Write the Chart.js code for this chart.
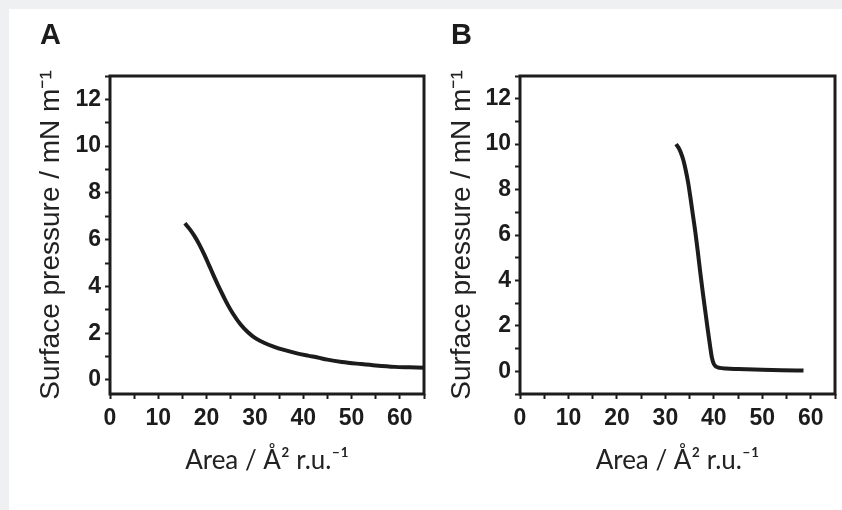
<!DOCTYPE html>
<html>
<head>
<meta charset="utf-8">
<script src="https://cdn.jsdelivr.net/npm/chart.js@4.4.1/dist/chart.umd.min.js"></script>
<style>
  html, body { margin: 0; padding: 0; background: #eef0f2; }
  #sheet { position: absolute; left: 9px; top: 9px; width: 833px; height: 501px; background: #fff; }
  canvas { position: absolute; top: 0; }
  #chartA { left: 10px; }
  #chartB { left: 421px; }
</style>
</head>
<body>
<div id="sheet">
  <canvas id="chartA" width="411" height="501"></canvas>
  <canvas id="chartB" width="412" height="501"></canvas>
</div>
<script>
// panel A isotherm
const areaA = [15.5, 16.5, 17.5, 18.5, 19.5, 20.5, 21.5, 22.5, 23.5, 24.5, 25.5, 27, 28.5, 30, 32, 34, 36, 38.5, 41, 43, 45, 48, 52, 55, 59, 62, 65];
const pressureA = [6.7, 6.45, 6.15, 5.79, 5.37, 4.91, 4.44, 3.99, 3.57, 3.17, 2.82, 2.38, 2.05, 1.8, 1.58, 1.42, 1.29, 1.15, 1.04, 0.96, 0.87, 0.77, 0.68, 0.62, 0.56, 0.54, 0.52];

// panel B isotherm
const areaB = [32.2, 32.7, 33.2, 33.7, 34.2, 34.7, 35.2, 35.7, 36.2, 36.7, 37.2, 37.7, 38.2, 38.7, 39.2, 39.6, 40.0, 40.5, 41.2, 42.5, 45, 50, 54, 58.5];
const pressureB = [10.0, 9.85, 9.62, 9.3, 8.85, 8.3, 7.6, 6.85, 6.1, 5.25, 4.35, 3.5, 2.7, 1.9, 1.15, 0.6, 0.32, 0.2, 0.15, 0.12, 0.1, 0.07, 0.05, 0.03];

const xTicks = [0, 10, 20, 30, 40, 50, 60];
const yTicks = [0, 2, 4, 6, 8, 10, 12];

const INK = '#1c1c1c';
const tickFont = {family: 'Liberation Sans', size: 23, weight: 'bold'};

const frame = {
  id: 'frame',
  afterDatasetsDraw(chart){
    const {ctx, chartArea: a} = chart;
    ctx.save();
    ctx.lineWidth = 3;
    ctx.strokeStyle = INK;
    ctx.strokeRect(a.left, a.top, a.right - a.left, a.bottom - a.top);
    ctx.restore();
  }
};

function makeChart(id, label, xs, ys, yMin, axisW, padRight){
  return new Chart(document.getElementById(id), {
    type: 'scatter',
    data: { datasets: [{
      data: xs.map((x, i) => ({x, y: ys[i]})),
      showLine: true, borderColor: INK, borderWidth: 4,
      pointRadius: 0, cubicInterpolationMode: 'monotone'
    }]},
    options: {
      responsive: false, animation: false, devicePixelRatio: 1,
      layout: { padding: {left: 21, right: padRight, top: 0, bottom: 0} },
      plugins: {
        legend: {display: false}, tooltip: {enabled: false},
        title: { display: true, text: label, align: 'start', color: INK,
          font: {family: 'Liberation Sans', size: 29, weight: 'bold'},
          padding: {top: 9.5, bottom: 22.7} }
      },
      scales: {
        x: {
          type: 'linear', min: 0, max: 65,
          afterFit: s => { s.height = 116; },
          border: {display: false},
          grid: {drawOnChartArea: false, drawTicks: true, tickLength: 5, tickWidth: 2, tickColor: INK},
          ticks: { stepSize: 5, autoSkip: false, maxRotation: 0, padding: 6, color: INK, font: tickFont,
            callback: v => xTicks.includes(v) ? String(v) : '' },
          title: { display: true, text: 'Area / Å² r.u.⁻¹', color: '#222',
            font: {family: 'Lato', size: 26}, padding: {top: 0, bottom: 34} }
        },
        y: {
          type: 'linear', min: yMin, max: 13,
          afterFit: s => { s.width = axisW; },
          border: {display: false},
          grid: {drawOnChartArea: false, drawTicks: true, tickLength: 5, tickWidth: 2, tickColor: INK},
          ticks: { stepSize: 1, autoSkip: false, includeBounds: false, maxTicksLimit: 100, padding: 4, color: INK, font: tickFont,
            callback: v => yTicks.includes(v) ? String(v) : '' },
          title: { display: true, text: 'Surface pressure / mN m⁻¹', color: '#222',
            font: {family: 'Liberation Sans', size: 28, lineHeight: 0.7}, padding: {top: 1.5, bottom: 0} }
        }
      }
    },
    plugins: [frame]
  });
}

makeChart('chartA', 'A', areaA, pressureA, -0.6, 70, 4);
makeChart('chartB', 'B', areaB, pressureB, -1, 69, 7);
</script>
</body>
</html>
